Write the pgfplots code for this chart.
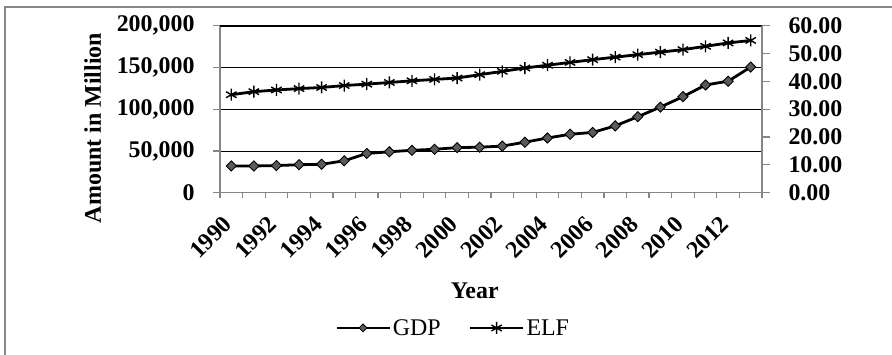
\documentclass[border=0pt]{standalone}
\usepackage{fontspec}
\setmainfont{Liberation Serif}
\usepackage{pgfplots}
\usepackage{pgfplotstable}
\pgfplotsset{compat=1.18}
\pgfplotstableread{
x year gdp elf
0 1990 32000 35.2
1 1991 32000 36.3
2 1992 32500 36.9
3 1993 33500 37.4
4 1994 34000 37.8
5 1995 38200 38.5
6 1996 47000 39.0
7 1997 49000 39.6
8 1998 50800 40.2
9 1999 52000 40.7
10 2000 54000 41.2
11 2001 54500 42.4
12 2002 55800 43.6
13 2003 60500 44.8
14 2004 65500 45.8
15 2005 70000 46.8
16 2006 72200 47.8
17 2007 80000 48.7
18 2008 91000 49.6
19 2009 102500 50.5
20 2010 115000 51.4
21 2011 129000 52.6
22 2012 133500 53.8
23 2013 150500 54.7
}\datatable
\definecolor{axgray}{HTML}{868686}
\definecolor{mkgray}{HTML}{5A5A5A}
\newcommand{\tickfont}{\fontsize{24}{28}\selectfont\bfseries}
\newcommand{\legfont}{\fontsize{24}{28}\selectfont}
\begin{document}
\begin{tikzpicture}
\useasboundingbox (0,0) rectangle (892bp,355bp);
\draw[axgray, line width=1.2bp] (5bp,0) -- (5bp,348bp) -- (892bp,348bp);
\pgfplotsset{
  gdpstyle/.style={black, line width=2.8bp, mark=square*, mark size=3.6bp,
    mark options={rotate=45, fill=mkgray, draw=black, line width=0.9bp, solid}},
  elfstyle/.style={black, line width=2.8bp, mark=asterisk, mark size=6bp,
    mark options={black, line width=1.4bp, solid}},
}
\begin{axis}[
  at={(220bp,162.3bp)}, anchor=south west,
  scale only axis, width=542bp, height=167bp,
  xmin=-0.5, xmax=23.5,
  ymin=0, ymax=200000,
  axis y line*=left, axis x line*=bottom,
  axis line style={axgray, line width=1.5bp},
  xtick={0,2,...,22},
  xticklabels={1990,1992,1994,1996,1998,2000,2002,2004,2006,2008,2010,2012},
  minor xtick={-0.5,0.5,...,23.5},
  major tick length=7bp,
  minor tick length=5bp,
  major x tick style={draw=none},
  every minor tick/.style={axgray, line width=1.2bp},
  tick align=outside,
  ytick={0,50000,100000,150000,200000},
  extra y ticks={200000}, extra y tick labels={},
  extra y tick style={grid style={black, line width=1.8bp}},
  every y tick/.style={axgray, line width=1.2bp},
  scaled y ticks=false,
  ymajorgrids,
  grid style={black, line width=0.8bp},
  yticklabel style={font=\tickfont, anchor=east, xshift=-15bp},
  xticklabel style={font=\tickfont, rotate=45, anchor=east, xshift=-13.6bp, yshift=-12bp},
  /pgf/number format/.cd, fixed, 1000 sep={,}, assume math mode=true,
  /pgfplots/.cd,
  xlabel={Year}, xlabel style={font=\tickfont, at={(axis description cs:0.47,-0.585)}, anchor=center},
  ylabel={Amount in Million}, ylabel style={font=\tickfont, at={(axis description cs:-0.235,0.387)}, anchor=center},
  clip=false,
]
\addplot[gdpstyle] table[x=x, y=gdp] {\datatable};
\end{axis}
\begin{axis}[
  at={(220bp,162.3bp)}, anchor=south west,
  scale only axis, width=542bp, height=167bp,
  xmin=-0.5, xmax=23.5,
  ymin=0, ymax=60,
  axis y line*=right, axis x line=none,
  axis line style={axgray, line width=1.5bp},
  ytick={0,10,...,60},
  tick align=outside,
  major tick length=8bp,
  every y tick/.style={axgray, line width=1.2bp},
  yticklabel style={font=\tickfont, anchor=west, xshift=15bp},
  /pgf/number format/.cd, fixed, fixed zerofill, precision=2, assume math mode=true,
  /pgfplots/.cd,
  legend style={draw=none, fill=none, font=\legfont, at={(axis description cs:0.43,-0.81)}, anchor=center,
    legend columns=2, /tikz/every even column/.append style={column sep=26bp}},
  legend image code/.code={\draw[mark repeat=2,mark phase=2,#1, line width=2.8bp] plot coordinates {(0bp,0bp) (26.5bp,0bp) (53bp,0bp)};},
  clip=false,
]
\addlegendimage{black, mark=square*, mark size=2.8bp, mark options={rotate=45, fill=mkgray, draw=black, line width=0.8bp, solid}}
\addlegendentry{GDP}
\addplot[elfstyle] table[x=x, y=elf] {\datatable};
\addlegendentry{ELF}
\end{axis}
\end{tikzpicture}
\end{document}
